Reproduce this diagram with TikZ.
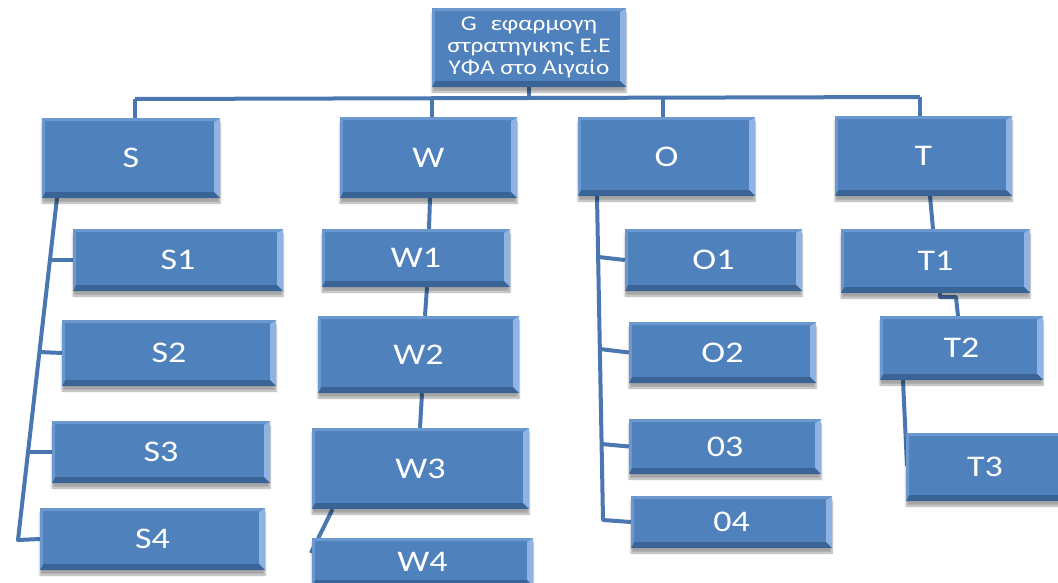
\documentclass[tikz,border=0pt]{standalone}
\usepackage{fontspec}
\setmainfont{Carlito}[FakeStretch=1.2]
\usetikzlibrary{shadows.blur,backgrounds}
\definecolor{boxblue}{HTML}{4F81BD}
\definecolor{bevlight}{HTML}{8FB4E3}
\definecolor{bevtop}{HTML}{6C98D0}
\definecolor{bevdark}{HTML}{3A6496}
\definecolor{lineblue}{HTML}{4A77B0}
\begin{document}
\begin{tikzpicture}[x=1pt,y=-1pt,
  conn/.style={draw=lineblue, line width=4pt, line join=round},
  box/.style={rectangle, fill=boxblue, text=white, inner sep=0pt,
    font=\fontsize{30}{33}\selectfont,
    blur shadow={shadow xshift=0pt, shadow yshift=-5pt, shadow blur steps=6, shadow opacity=35},
    path picture={
      \fill[bevlight] (path picture bounding box.north east) -- (path picture bounding box.south east)
        -- ([shift={(-6pt,6pt)}]path picture bounding box.south east)
        -- ([shift={(-6pt,-4pt)}]path picture bounding box.north east) -- cycle;
      \fill[bevdark] (path picture bounding box.south west) -- (path picture bounding box.south east)
        -- ([shift={(-6pt,6pt)}]path picture bounding box.south east)
        -- ([shift={(3pt,6pt)}]path picture bounding box.south west) -- cycle;
      \fill[bevtop] (path picture bounding box.north west) -- (path picture bounding box.north east)
        -- ([shift={(-6pt,-3pt)}]path picture bounding box.north east)
        -- ([shift={(3pt,-3pt)}]path picture bounding box.north west) -- cycle;
      \fill[bevtop] (path picture bounding box.north west) -- (path picture bounding box.south west)
        -- ([shift={(3pt,6pt)}]path picture bounding box.south west)
        -- ([shift={(3pt,-3pt)}]path picture bounding box.north west) -- cycle;
    }},
]
\useasboundingbox (0,0) rectangle (1058,582);

% root
\node[box, minimum width=194pt, minimum height=79pt, align=center,
      font=\fontsize{21}{22}\selectfont] (G) at (529,47.5)
  {G\hspace{14pt}εφαρμογη\\στρατηγικης Ε.Ε\\ΥΦΑ στο Αιγαίο};

% first level
\node[box, minimum width=178pt, minimum height=80pt] (S) at (131,158) {S};
\node[box, minimum width=177pt, minimum height=81pt] (W) at (428.5,157.5) {W};
\node[box, minimum width=177pt, minimum height=79pt] (O) at (666.5,156.5) {O};
\node[box, minimum width=177pt, minimum height=80pt] (T) at (923.5,156) {T};

% S branch
\node[box, minimum width=210pt, minimum height=62pt] (S1) at (178,260) {S1};
\node[box, minimum width=214pt, minimum height=66pt] (S2) at (169,353) {S2};
\node[box, minimum width=218pt, minimum height=62pt] (S3) at (161,452) {S3};
\node[box, minimum width=225pt, minimum height=62pt] (S4) at (152.5,539) {S4};

% W branch
\node[box, minimum width=188pt, minimum height=58pt] (W1) at (416,258) {W1};
\node[box, minimum width=201pt, minimum height=77pt] (W2) at (418.5,354.5) {W2};
\node[box, minimum width=217pt, minimum height=81pt] (W3) at (420.5,468.5) {W3};
\node[box, minimum width=221pt, minimum height=48pt] (W4) at (422.5,562) {W4};

% O branch
\node[box, minimum width=177pt, minimum height=62pt] (O1) at (713.5,260) {O1};
\node[box, minimum width=187pt, minimum height=61pt] (O2) at (722.5,352.5) {O2};
\node[box, minimum width=192pt, minimum height=55pt] (O3) at (725,446.5) {03};
\node[box, minimum width=201pt, minimum height=52pt] (O4) at (731.5,522) {04};

% T branch
\node[box, minimum width=189pt, minimum height=64pt] (T1) at (935.5,261) {T1};
\node[box, minimum width=163pt, minimum height=64pt] (T2) at (961.5,348) {T2};
\node[box, minimum width=158pt, minimum height=68pt] (T3) at (985,467) {T3};

% connector points
\coordinate (barL) at (135,99);
\coordinate (barR) at (920,97);
\coordinate (sTop) at (57,198);
\coordinate (s1j) at (50,260);
\coordinate (s2j) at (39.5,352);
\coordinate (s3j) at (28,452);
\coordinate (sBot) at (18,540);
\coordinate (oTop) at (597,196);
\coordinate (o1j) at (598.5,257);
\coordinate (o2j) at (600,349);
\coordinate (o3j) at (601.5,444);
\coordinate (oBot) at (603,520);
\coordinate (w4end) at (311,553);
\coordinate (t12a) at (940,297);
\coordinate (t12b) at (956,297);
\coordinate (t3end) at (907,466);

\begin{scope}[on background layer]
  % root to first level
  \draw[conn] (G.south) -- (G.south |- 0,98);
  \draw[conn] (barL) -- (barR);
  \draw[conn] (barL) -- (barL |- S.north);
  \draw[conn] (432,98) -- (432,117);
  \draw[conn] (663,97.5) -- (663,117);
  \draw[conn] (barR) -- (barR |- T.north);
  % S trunk
  \draw[conn] (sTop) -- (sBot) -- (S4.west);
  \draw[conn] (s1j) -- (S1.west);
  \draw[conn] (s2j) -- (S2.west);
  \draw[conn] (s3j) -- (S3.west);
  % W chain
  \draw[conn] (430,198) -- (429,229);
  \draw[conn] ([xshift=11pt]W1.south) -- ([xshift=6.5pt]W2.north);
  \draw[conn] ([xshift=3.5pt]W2.south) -- ([xshift=-0.5pt]W3.north);
  \draw[conn] ([xshift=-88pt]W3.south) -- (w4end);
  % O trunk
  \draw[conn] (oTop) -- (oBot) -- (O4.west);
  \draw[conn] (o1j) -- (O1.west);
  \draw[conn] (o2j) -- (O2.west);
  \draw[conn] (o3j) -- (O3.west);
  % T chain
  \draw[conn] (930,196) -- (933,229);
  \draw[conn] ([xshift=4.5pt]T1.south) -- (t12a) -- (t12b) -- (958,316);
  \draw[conn] ([xshift=-58.5pt]T2.south) -- (t3end);
\end{scope}
\end{tikzpicture}
\end{document}
